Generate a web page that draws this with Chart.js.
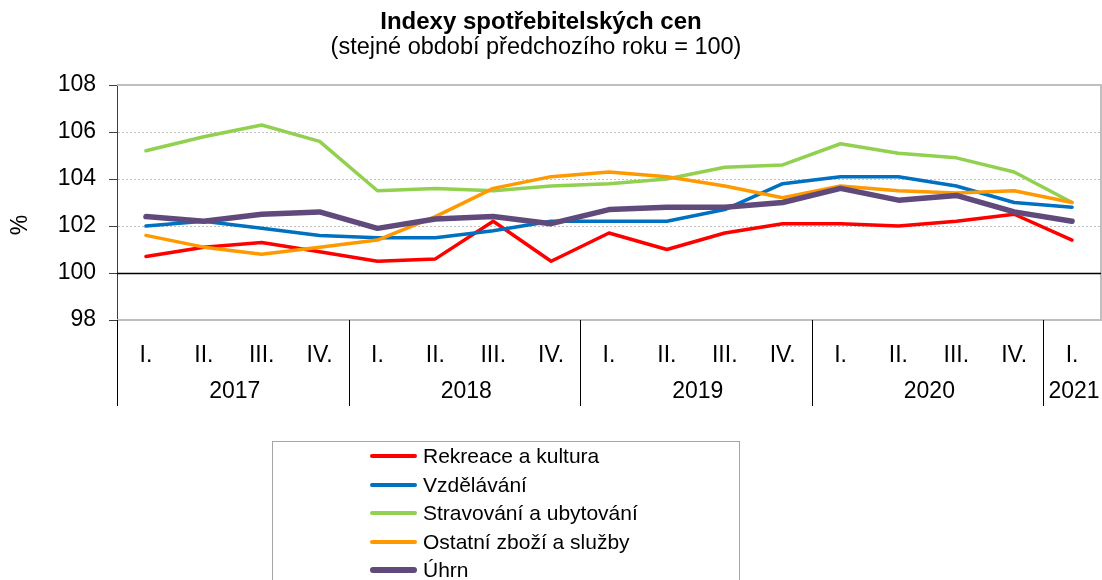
<!DOCTYPE html>
<html lang="cs">
<head>
<meta charset="utf-8">
<title>Indexy spotřebitelských cen</title>
<script src="https://cdn.jsdelivr.net/npm/chart.js@4.4.1/dist/chart.umd.min.js"></script>
<style>
    html, body { margin: 0; padding: 0; background: #fff; }
    #wrap { position: relative; width: 1102px; height: 580px; overflow: hidden; font-family: 'Liberation Sans', Arial, sans-serif; }
    #legend { position: absolute; left: 272px; top: 441px; width: 468px; height: 200px; border: 1px solid #a6a6a6; box-sizing: border-box; }
    .legend-item { position: absolute; left: 0; height: 28px; line-height: 28px; font-size: 21px; color: #000; white-space: nowrap; }
    .legend-line { position: absolute; left: 97px; width: 47px; border-radius: 3px; }
    .legend-text { position: absolute; left: 150px; top: 0; }
</style>
</head>
<body>
<div id="wrap">
    <canvas id="cpiChart" width="1102" height="580"></canvas>
    <div id="legend"></div>
</div>
<script>
const chartTitle = 'Indexy spotřebitelských cen';
const chartSubtitle = '(stejné období předchozího roku = 100)';
const quarters = ['I.', 'II.', 'III.', 'IV.', 'I.', 'II.', 'III.', 'IV.', 'I.', 'II.', 'III.', 'IV.', 'I.', 'II.', 'III.', 'IV.', 'I.'];
const years = ['2017', '2018', '2019', '2020', '2021'];
const quartersPerYear = [4, 4, 4, 4, 1];
const yTicks = { min: 98, max: 108, step: 2 };
const yTitle = '%';

const rekreace = [100.7, 101.1, 101.3, 100.9, 100.5, 100.6, 102.2, 100.5, 101.7, 101.0, 101.7, 102.1, 102.1, 102.0, 102.2, 102.5, 101.4];
const vzdelavani = [102.0, 102.2, 101.9, 101.6, 101.5, 101.5, 101.8, 102.2, 102.2, 102.2, 102.7, 103.8, 104.1, 104.1, 103.7, 103.0, 102.8];
const stravovani = [105.2, 105.8, 106.3, 105.6, 103.5, 103.6, 103.5, 103.7, 103.8, 104.0, 104.5, 104.6, 105.5, 105.1, 104.9, 104.3, 103.0];
const ostatni = [101.6, 101.1, 100.8, 101.1, 101.4, 102.4, 103.6, 104.1, 104.3, 104.1, 103.7, 103.2, 103.7, 103.5, 103.4, 103.5, 103.0];
const uhrn = [102.4, 102.2, 102.5, 102.6, 101.9, 102.3, 102.4, 102.1, 102.7, 102.8, 102.8, 103.0, 103.6, 103.1, 103.3, 102.6, 102.2];

const seriesNames = ['Rekreace a kultura', 'Vzdělávání', 'Stravování a ubytování', 'Ostatní zboží a služby', 'Úhrn'];
const seriesData = [rekreace, vzdelavani, stravovani, ostatni, uhrn];
const seriesColors = ['#FF0000', '#0070C0', '#92D050', '#FF9900', '#604A7B'];
const seriesWidths = [3.5, 3.5, 3.5, 3.5, 5.5];

const FONT = "'Liberation Sans', Arial, sans-serif";
Chart.defaults.font.family = FONT;
Chart.defaults.color = '#000';

// frame, 100 line, y tick marks and titles under the lines; year groups on top
const framePlugin = {
    id: 'frame',
    beforeDatasetsDraw(chart) {
        const { ctx, chartArea: a, scales: { y } } = chart;
        ctx.save();
        ctx.strokeStyle = '#BFBFBF';
        ctx.lineWidth = 2;
        ctx.beginPath();
        ctx.moveTo(a.left, a.top);
        ctx.lineTo(a.right, a.top);
        ctx.lineTo(a.right, a.bottom);
        ctx.lineTo(a.left, a.bottom);
        ctx.stroke();

        const y100 = Math.round(y.getPixelForValue(100)) + 0.5;
        ctx.strokeStyle = '#000';
        ctx.lineWidth = 1.5;
        ctx.beginPath();
        ctx.moveTo(a.left, y100);
        ctx.lineTo(a.right, y100);
        ctx.stroke();

        ctx.strokeStyle = '#404040';
        ctx.lineWidth = 1;
        y.ticks.forEach((t) => {
            const py = Math.round(y.getPixelForValue(t.value)) + 0.5;
            ctx.beginPath();
            ctx.moveTo(a.left - 8, py);
            ctx.lineTo(a.left, py);
            ctx.stroke();
        });

        ctx.fillStyle = '#000';
        ctx.textAlign = 'center';
        ctx.textBaseline = 'middle';
        ctx.font = `bold 24px ${FONT}`;
        ctx.fillText(chartTitle, 541, 22);
        ctx.font = `23.5px ${FONT}`;
        ctx.fillText(chartSubtitle, 536, 48);

        // y axis title, sits a bit below the middle like in Excel
        ctx.font = `23px ${FONT}`;
        ctx.translate(21, 225);
        ctx.rotate(-Math.PI / 2);
        ctx.fillText(yTitle, 0, 0);
        ctx.restore();
    },
    afterDraw(chart) {
        const { ctx, chartArea: a, scales: { x } } = chart;
        const catW = x.getPixelForValue(1) - x.getPixelForValue(0);
        ctx.save();
        ctx.strokeStyle = '#000';
        ctx.lineWidth = 1;
        ctx.fillStyle = '#000';
        ctx.font = `23px ${FONT}`;
        ctx.textAlign = 'center';
        ctx.textBaseline = 'middle';
        let start = 0;
        years.forEach((year, i) => {
            const count = quartersPerYear[i];
            const left = x.getPixelForValue(start) - catW / 2;
            const right = x.getPixelForValue(start + count - 1) + catW / 2;
            const sx = Math.round(left) + 0.5;
            ctx.beginPath();
            ctx.moveTo(sx, a.bottom);
            ctx.lineTo(sx, 406);
            ctx.stroke();
            ctx.fillText(year, (left + right) / 2 + 2, 392);
            start += count;
        });
        ctx.restore();
    },
};

function renderLegend() {
    const legend = document.getElementById('legend');
    seriesNames.forEach((name, i) => {
        const item = document.createElement('div');
        item.className = 'legend-item';
        item.style.top = `${Math.round(i * 28.5)}px`;
        item.style.width = '100%';
        const w = seriesWidths[i];
        item.innerHTML = `<div class="legend-line" style="top:${14 - w / 2}px;height:${w}px;background:${seriesColors[i]}"></div>` +
            `<span class="legend-text">${name}</span>`;
        legend.appendChild(item);
    });
}

function renderChart() {
    const ctx = document.getElementById('cpiChart').getContext('2d');
    const datasets = seriesNames.map((name, i) => ({
        label: name,
        data: seriesData[i],
        borderColor: seriesColors[i],
        backgroundColor: seriesColors[i],
        borderWidth: seriesWidths[i],
        pointRadius: 0,
        tension: 0,
        borderJoinStyle: 'round',
        borderCapStyle: 'round',
        order: seriesNames.length - i,
    }));

    new Chart(ctx, {
        type: 'line',
        data: { labels: quarters, datasets },
        options: {
            responsive: false,
            animation: false,
            devicePixelRatio: 1,
            layout: { padding: { left: 0, right: 1, top: 85, bottom: 0 } },
            scales: {
                x: {
                    type: 'category',
                    offset: true,
                    grid: { display: false },
                    border: { display: false },
                    ticks: { color: '#000', font: { size: 23 }, padding: 14, maxRotation: 0, autoSkip: false },
                    afterFit: (scale) => { scale.height = 260; },
                },
                y: {
                    min: yTicks.min,
                    max: yTicks.max,
                    ticks: { stepSize: yTicks.step, color: '#000', font: { size: 23 }, padding: 21 },
                    grid: {
                        drawTicks: false,
                        color: (c) => ([102, 104, 106].includes(c.tick.value) ? '#C0C0C0' : 'transparent'),
                    },
                    border: { display: true, color: '#404040', width: 1, dash: [2, 2] },
                    afterFit: (scale) => { scale.width = 117; },
                },
            },
            plugins: {
                legend: { display: false },
                tooltip: { enabled: false },
                title: { display: false },
            },
        },
        plugins: [framePlugin],
    });
}

window.addEventListener('DOMContentLoaded', () => {
    renderLegend();
    renderChart();
});
</script>
</body>
</html>
